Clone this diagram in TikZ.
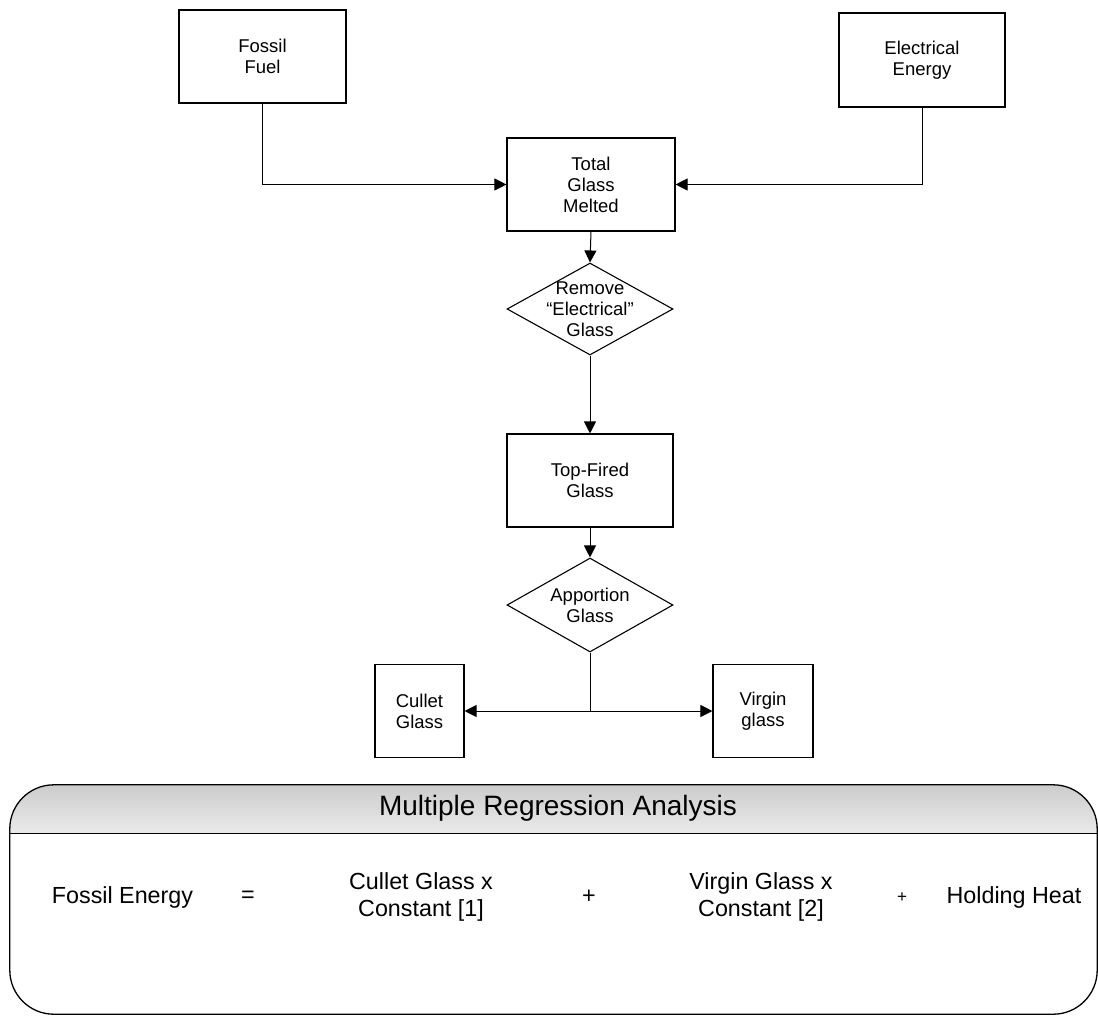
\documentclass[tikz,border=0pt]{standalone}
\usepackage{fontspec}
\setmainfont{Liberation Sans}
\usetikzlibrary{shapes.geometric,arrows.meta,positioning,calc}
\pgfdeclareverticalshading{hdr}{100bp}{color(0bp)=(black!2); color(100bp)=(black!26)}
\tikzset{
  box/.style={draw,line width=1.1pt,align=center,font=\fontsize{18.5}{21}\selectfont,inner sep=0pt},
  dec/.style={draw,diamond,line width=1.1pt,minimum width=166pt,inner sep=0pt},
  dlbl/.style={align=center,font=\fontsize{18.5}{21}\selectfont,inner sep=0pt},
  arr/.style={-{Triangle[length=12pt,width=12pt]},line width=1pt},
  panel/.style={inner sep=0pt,minimum width=1087pt,minimum height=229pt},
  pline/.style={line width=1.3pt,rounded corners=44pt},
  eqn/.style={font=\fontsize{23.3}{27}\selectfont,align=center,inner sep=0pt}
}
\begin{document}
\begin{tikzpicture}[x=1pt,y=-1pt]
\useasboundingbox (0,0) rectangle (1098,1015);
\node[box,minimum width=167pt,minimum height=93pt] (fuel) at (262.5,56.5) {Fossil\\Fuel};
\node[box,minimum width=166pt,minimum height=94pt] (elec) at (922,60) {Electrical\\Energy};
\node[box,minimum width=168pt,minimum height=93pt] (total) at (591,184.5) {Total\\Glass\\Melted};
\node[dec,minimum height=92pt,label={[dlbl]center:Remove\\“Electrical”\\Glass}] (rm) at (590,309) {};
\node[box,minimum width=166pt,minimum height=93pt] (top) at (590,480.5) {Top-Fired\\Glass};
\node[dec,minimum height=94pt,label={[dlbl]center:Apportion\\Glass}] (app) at (590,605) {};
\node[box,minimum width=89pt,minimum height=93pt] (cullet) at (419.5,711) {Cullet\\Glass};
\node[box,minimum width=100pt,minimum height=93pt] (virgin) at (763,711) {Virgin\\glass};
\coordinate (split) at (app.south |- cullet.east);
\draw[arr] (fuel.south) |- (total.west);
\draw[arr] (elec.south) |- (total.east);
\draw[arr] (total.south) -- (rm.north);
\draw[arr] (rm.south) -- (top.north);
\draw[arr] (top.south) -- (app.north);
\draw[line width=1pt] (app.south) -- (split);
\draw[arr] (split) -- (cullet.east);
\draw[arr] (split) -- (virgin.west);
% regression panel
\node[panel] (mra) at (553.5,899.5) {};
\begin{scope}
  \clip[rounded corners=44pt] (mra.north west) rectangle (mra.south east);
  \shade[shading=hdr] (mra.north west) rectangle ($(mra.north east)+(0,49)$);
\end{scope}
\draw[pline] (mra.north west) rectangle (mra.south east);
\draw[line width=1.3pt] ($(mra.north west)+(0,49)$) -- ($(mra.north east)+(0,49)$);
\node[font=\fontsize{28}{32}\selectfont,inner sep=0pt] (title) at (558,808) {Multiple Regression Analysis};
\foreach \n/\x/\t in {fe/122.5/Fossil Energy, eq/248/=, cg/421/{Cullet Glass x\\Constant [1]}, p1/589/+, vg/761/{Virgin Glass x\\Constant [2]}, hh/1014/Holding Heat}{
  \node[eqn] (\n) at (\x,897) {\t};
}
\node[eqn,font=\fontsize{17}{20}\selectfont] (p2) at (902,898) {+};
\end{tikzpicture}
\end{document}
